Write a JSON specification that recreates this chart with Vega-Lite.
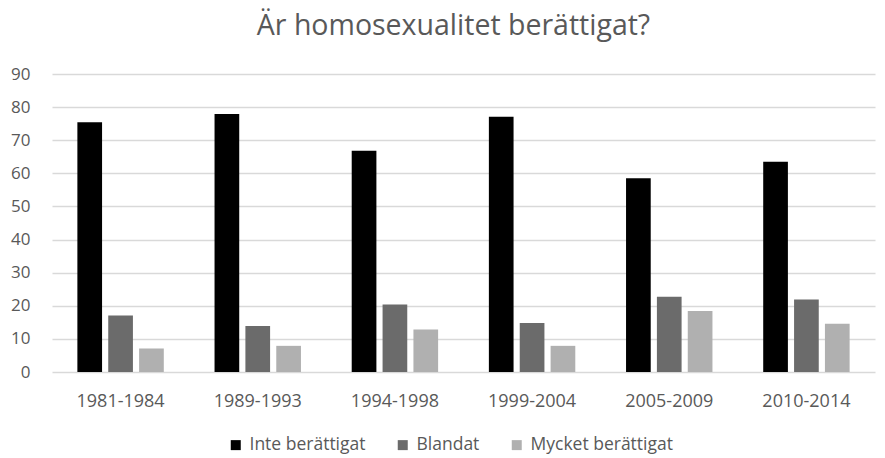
{
  "$schema": "https://vega.github.io/schema/vega-lite/v6.json",
  "autosize": "none",
  "width": 823,
  "height": 298,
  "padding": {"left": 52, "top": 74, "right": 10, "bottom": 86},
  "background": "white",
  "title": {
    "text": "Är homosexualitet berättigat?",
    "fontSize": 28.5,
    "font": "Open Sans",
    "fontWeight": "normal",
    "color": "#595959",
    "anchor": "middle",
    "dx": -10,
    "offset": 25
  },
  "data": {
    "values": [
      {"period": "1981-1984", "svar": "Inte berättigat", "value": 75.4},
      {"period": "1981-1984", "svar": "Blandat", "value": 17.1},
      {"period": "1981-1984", "svar": "Mycket berättigat", "value": 7.1},
      {"period": "1989-1993", "svar": "Inte berättigat", "value": 77.9},
      {"period": "1989-1993", "svar": "Blandat", "value": 13.9},
      {"period": "1989-1993", "svar": "Mycket berättigat", "value": 7.9},
      {"period": "1994-1998", "svar": "Inte berättigat", "value": 66.8},
      {"period": "1994-1998", "svar": "Blandat", "value": 20.4},
      {"period": "1994-1998", "svar": "Mycket berättigat", "value": 12.8},
      {"period": "1999-2004", "svar": "Inte berättigat", "value": 77.1},
      {"period": "1999-2004", "svar": "Blandat", "value": 14.8},
      {"period": "1999-2004", "svar": "Mycket berättigat", "value": 7.9},
      {"period": "2005-2009", "svar": "Inte berättigat", "value": 58.5},
      {"period": "2005-2009", "svar": "Blandat", "value": 22.7},
      {"period": "2005-2009", "svar": "Mycket berättigat", "value": 18.4},
      {"period": "2010-2014", "svar": "Inte berättigat", "value": 63.5},
      {"period": "2010-2014", "svar": "Blandat", "value": 21.9},
      {"period": "2010-2014", "svar": "Mycket berättigat", "value": 14.6}
    ]
  },
  "mark": {"type": "bar"},
  "encoding": {
    "x": {
      "field": "period",
      "type": "nominal",
      "sort": null,
      "scale": {"paddingInner": 0.37, "paddingOuter": 0.185},
      "axis": {
        "title": null,
        "labelAngle": 0,
        "labelFont": "Open Sans",
        "labelFontSize": 18,
        "labelColor": "#595959",
        "labelPadding": 20,
        "ticks": false,
        "domain": false,
        "grid": false
      }
    },
    "xOffset": {
      "field": "svar",
      "type": "nominal",
      "sort": ["Inte berättigat", "Blandat", "Mycket berättigat"],
      "scale": {"paddingInner": 0.2, "paddingOuter": 0}
    },
    "y": {
      "field": "value",
      "type": "quantitative",
      "scale": {"domain": [0, 90], "nice": false},
      "axis": {
        "title": null,
        "values": [0, 10, 20, 30, 40, 50, 60, 70, 80, 90],
        "labelFont": "Open Sans",
        "labelFontSize": 17,
        "labelColor": "#595959",
        "labelPadding": 22,
        "ticks": false,
        "domain": false,
        "grid": true,
        "gridColor": "#d9d9d9",
        "gridWidth": 1.5
      }
    },
    "color": {
      "field": "svar",
      "type": "nominal",
      "sort": ["Inte berättigat", "Blandat", "Mycket berättigat"],
      "scale": {
        "domain": ["Inte berättigat", "Blandat", "Mycket berättigat"],
        "range": ["#000000", "#6b6b6b", "#b0b0b0"]
      },
      "legend": {
        "title": null,
        "orient": "none",
        "direction": "horizontal",
        "legendX": 175,
        "legendY": 362,
        "symbolType": "square",
        "symbolSize": 100,
        "symbolStrokeWidth": 0,
        "labelFont": "Open Sans",
        "labelFontSize": 17.5,
        "labelColor": "#595959",
        "labelOffset": 5,
        "columnPadding": 28
      }
    }
  },
  "config": {"view": {"stroke": null}}
}
